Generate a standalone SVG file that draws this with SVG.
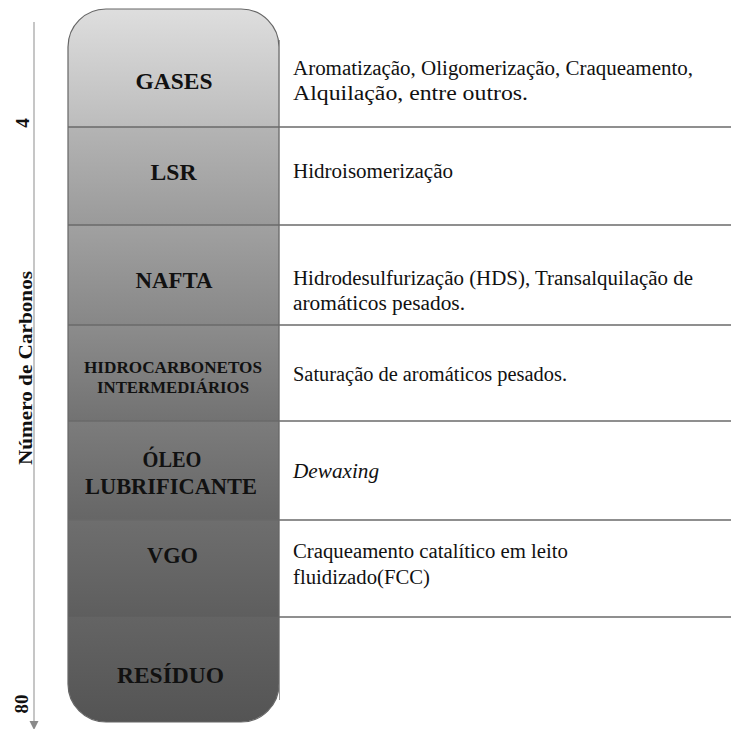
<svg xmlns="http://www.w3.org/2000/svg" width="731" height="729" viewBox="0 0 731 729">
<style>
text{font-family:'Liberation Serif','Times New Roman',serif}
.lbl{font-weight:bold;font-size:23px;fill:#111;text-anchor:middle}
.lbs{font-weight:bold;font-size:17px;fill:#111;text-anchor:middle}
.desc{font-size:20px;fill:#111}
.ax{font-weight:bold;font-size:19px;fill:#111;text-anchor:middle}
.div{stroke:#6a6a6a;stroke-width:1.6;fill:none}
</style>
<defs>
<linearGradient id="g1" x1="0" y1="0" x2="0" y2="1"><stop offset="0" stop-color="#dedede"/><stop offset="1" stop-color="#bcbcbc"/></linearGradient>
<linearGradient id="g2" x1="0" y1="0" x2="0" y2="1"><stop offset="0" stop-color="#b4b4b4"/><stop offset="1" stop-color="#9a9a9a"/></linearGradient>
<linearGradient id="g3" x1="0" y1="0" x2="0" y2="1"><stop offset="0" stop-color="#a1a1a1"/><stop offset="1" stop-color="#878787"/></linearGradient>
<linearGradient id="g4" x1="0" y1="0" x2="0" y2="1"><stop offset="0" stop-color="#8c8c8c"/><stop offset="1" stop-color="#727272"/></linearGradient>
<linearGradient id="g5" x1="0" y1="0" x2="0" y2="1"><stop offset="0" stop-color="#7c7c7c"/><stop offset="1" stop-color="#666666"/></linearGradient>
<linearGradient id="g6" x1="0" y1="0" x2="0" y2="1"><stop offset="0" stop-color="#6e6e6e"/><stop offset="1" stop-color="#5e5e5e"/></linearGradient>
<linearGradient id="g7" x1="0" y1="0" x2="0" y2="1"><stop offset="0" stop-color="#646464"/><stop offset="1" stop-color="#545454"/></linearGradient>
<clipPath id="col"><rect x="68" y="9" width="211" height="713" rx="38" ry="38"/></clipPath>
</defs>
<rect width="731" height="729" fill="#ffffff"/>

<g id="axis">
<line x1="34" y1="22" x2="34" y2="722" stroke="#a8a8a8" stroke-width="1.3"/>
<path d="M29.5,721 L38.5,721 L34,730 Z" fill="#8a8a8a"/>
<text class="ax" transform="translate(28.5,123) rotate(-90)">4</text>
<text class="ax" transform="translate(28,704) rotate(-90)">80</text>
<text class="ax" transform="translate(31.5,368) rotate(-90)" font-size="20" textLength="194" lengthAdjust="spacingAndGlyphs">Número de Carbonos</text>
</g>

<g clip-path="url(#col)">
<g id="gases">
<rect x="68" y="9" width="211" height="118" fill="url(#g1)"/>
<text class="lbl" x="174" y="88.5" textLength="77" lengthAdjust="spacingAndGlyphs">GASES</text>
</g>
<g id="lsr">
<rect x="68" y="127" width="211" height="98" fill="url(#g2)"/>
<text class="lbl" x="173.5" y="180" textLength="46" lengthAdjust="spacingAndGlyphs">LSR</text>
</g>
<g id="nafta">
<rect x="68" y="225" width="211" height="100" fill="url(#g3)"/>
<text class="lbl" x="174" y="288" textLength="77" lengthAdjust="spacingAndGlyphs">NAFTA</text>
</g>
<g id="hidrocarbonetos">
<rect x="68" y="325" width="211" height="96" fill="url(#g4)"/>
<text class="lbs" x="173" y="372.5" textLength="178" lengthAdjust="spacingAndGlyphs">HIDROCARBONETOS</text>
<text class="lbs" x="173" y="393" textLength="152" lengthAdjust="spacingAndGlyphs">INTERMEDIÁRIOS</text>
</g>
<g id="oleo">
<rect x="68" y="421" width="211" height="99" fill="url(#g5)"/>
<text class="lbl" x="172" y="467" textLength="59" lengthAdjust="spacingAndGlyphs">ÓLEO</text>
<text class="lbl" x="171" y="494" textLength="172" lengthAdjust="spacingAndGlyphs">LUBRIFICANTE</text>
</g>
<g id="vgo">
<rect x="68" y="520" width="211" height="97" fill="url(#g6)"/>
<text class="lbl" x="172.5" y="563" textLength="51" lengthAdjust="spacingAndGlyphs">VGO</text>
</g>
<g id="residuo">
<rect x="68" y="617" width="211" height="105" fill="url(#g7)"/>
<text class="lbl" x="170.5" y="683" textLength="107" lengthAdjust="spacingAndGlyphs">RESÍDUO</text>
</g>
</g>
<rect x="68" y="9" width="211" height="713" rx="38" ry="38" fill="none" stroke="#666666" stroke-width="1.2"/>
<line x1="279.5" y1="40" x2="279.5" y2="700" stroke="#9a9a9a" stroke-width="1"/>

<g id="dividers">
<line class="div" x1="68" y1="127" x2="731" y2="127"/>
<line class="div" x1="68" y1="225" x2="731" y2="225"/>
<line class="div" x1="68" y1="325" x2="731" y2="325"/>
<line class="div" x1="68" y1="421" x2="731" y2="421"/>
<line class="div" x1="68" y1="520" x2="731" y2="520"/>
<line x1="68" y1="617" x2="279" y2="617" stroke="#6a6a6a" stroke-width="1" stroke-opacity="0.35"/>
<line class="div" x1="279" y1="617" x2="731" y2="617"/>
</g>

<g id="descriptions">
<text class="desc" x="293" y="75" textLength="400" lengthAdjust="spacingAndGlyphs">Aromatização, Oligomerização,  Craqueamento,</text>
<text class="desc" x="293" y="100" textLength="235" lengthAdjust="spacingAndGlyphs">Alquilação, entre outros.</text>
<text class="desc" x="293" y="178" textLength="160" lengthAdjust="spacingAndGlyphs">Hidroisomerização</text>
<text class="desc" x="293" y="285" textLength="400" lengthAdjust="spacingAndGlyphs">Hidrodesulfurização (HDS), Transalquilação  de</text>
<text class="desc" x="293" y="310" textLength="172" lengthAdjust="spacingAndGlyphs">aromáticos pesados.</text>
<text class="desc" x="293" y="381" textLength="274" lengthAdjust="spacingAndGlyphs">Saturação de aromáticos pesados.</text>
<text class="desc" x="293" y="478" font-style="italic" textLength="86" lengthAdjust="spacingAndGlyphs">Dewaxing</text>
<text class="desc" x="293" y="558" textLength="275" lengthAdjust="spacingAndGlyphs">Craqueamento catalítico em leito</text>
<text class="desc" x="293" y="584" textLength="137" lengthAdjust="spacingAndGlyphs">fluidizado(FCC)</text>
</g>
</svg>
